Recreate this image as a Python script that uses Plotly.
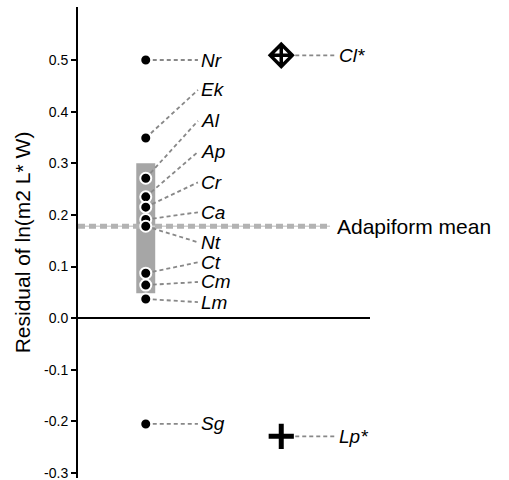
import plotly.graph_objects as go

# ---- data ----
taxa = ["Nr", "Ek", "Al", "Ap", "Cr", "Ca", "Nt", "Ct", "Cm", "Lm", "Sg"]
residuals = [0.500, 0.349, 0.271, 0.235, 0.215, 0.191, 0.178, 0.087, 0.064, 0.037, -0.205]
label_y = [0.500, 0.442, 0.382, 0.322, 0.263, 0.205, 0.147, 0.108, 0.070, 0.031, -0.205]

special_taxa = ["Cl*", "Lp*"]
special_residuals = [0.509, -0.229]
special_symbols = ["diamond-cross-open", "cross-thin-open"]

adapiform_mean = 0.178
range_low = 0.048
range_high = 0.300

tick_vals = [0.5, 0.4, 0.3, 0.2, 0.1, 0.0, -0.1, -0.2, -0.3]
tick_text = ["0.5", "0.4", "0.3", "0.2", "0.1", "0.0", "-0.1", "-0.2", "-0.3"]

# ---- layout positions (x categories in axis units) ----
X_MAIN = 1.0
X_SPECIAL = 3.0
X_LEADER_END = 1.77
X_LABEL = 1.79
X_SPECIAL_LEADER_END = 3.80
X_SPECIAL_LABEL = 3.82
X_MEAN_END = 3.72
X_MEAN_LABEL = 3.79

FONT = "Liberation Sans, Arial, sans-serif"

fig = go.Figure()

# gray range box
fig.add_trace(go.Bar(x=[X_MAIN], base=[range_low], y=[range_high - range_low], width=0.28,
                     marker=dict(color="#a6a6a6", line=dict(width=0)), hoverinfo="skip",
                     showlegend=False))

# adapiform mean line (thin + thick dashed)
fig.add_trace(go.Scatter(x=[0, X_MEAN_END], y=[adapiform_mean, adapiform_mean], mode="lines",
                         line=dict(color="#cfcfcf", width=1.5), showlegend=False, hoverinfo="skip"))
fig.add_trace(go.Scatter(x=[0, X_MEAN_END], y=[adapiform_mean, adapiform_mean], mode="lines",
                         line=dict(color="#b3b3b3", width=5, dash="7px,4px"), showlegend=False,
                         hoverinfo="skip"))

# leader lines
lx, ly = [], []
for r, yl in zip(residuals, label_y):
    lx += [X_MAIN, X_LEADER_END, None]
    ly += [r, yl, None]
for r in special_residuals:
    lx += [X_SPECIAL, X_SPECIAL_LEADER_END, None]
    ly += [r, r, None]
fig.add_trace(go.Scatter(x=lx, y=ly, mode="lines",
                         line=dict(color="#888888", width=1.8, dash="4px,3px"),
                         showlegend=False, hoverinfo="skip"))

# adapiform dots
fig.add_trace(go.Scatter(x=[X_MAIN] * len(residuals), y=residuals, mode="markers",
                         marker=dict(color="black", size=11, line=dict(color="white", width=2)),
                         showlegend=False))

# special taxa markers
for r, s in zip(special_residuals, special_symbols):
    fig.add_trace(go.Scatter(x=[X_SPECIAL], y=[r], mode="markers",
                             marker=dict(symbol=s, color="black", size=17 if "diamond" in s else 18,
                                         line=dict(color="black", width=3.5 if "diamond" in s else 5)),
                             showlegend=False))

# labels
for t, yl in zip(taxa, label_y):
    fig.add_annotation(x=X_LABEL, y=yl, text=f"<i>{t}</i>", showarrow=False, xanchor="left",
                       yanchor="middle", font=dict(family=FONT, size=19, color="black"))
for t, r in zip(special_taxa, special_residuals):
    fig.add_annotation(x=X_SPECIAL_LABEL, y=r, text=f"<i>{t}</i>", showarrow=False, xanchor="left",
                       yanchor="middle", font=dict(family=FONT, size=19, color="black"))
fig.add_annotation(x=X_MEAN_LABEL, y=adapiform_mean, text="Adapiform mean", showarrow=False,
                   xanchor="left", yanchor="middle", font=dict(family=FONT, size=21, color="black"))

fig.update_layout(
    width=509, height=480,
    margin=dict(l=78, r=139, t=7, b=2, autoexpand=False),
    plot_bgcolor="white", paper_bgcolor="white",
    font=dict(family=FONT, color="black"),
    showlegend=False,
    xaxis=dict(range=[0, 4.31], visible=False),
    yaxis=dict(range=[-0.3097, 0.6027], tickvals=tick_vals, ticktext=tick_text,
               showline=True, linecolor="black", linewidth=2, ticks="outside",
               ticklen=5, tickwidth=1.5, tickcolor="black", showgrid=False,
               zeroline=True, zerolinecolor="black", zerolinewidth=2,
               ticklabeloverflow="allow", automargin=False,
               tickfont=dict(family=FONT, size=14, color="black"),
               title=dict(text="Residual of ln(m2 L* W)", font=dict(family=FONT, size=21),
                          standoff=8)),
)

fig.write_html("out.html")
